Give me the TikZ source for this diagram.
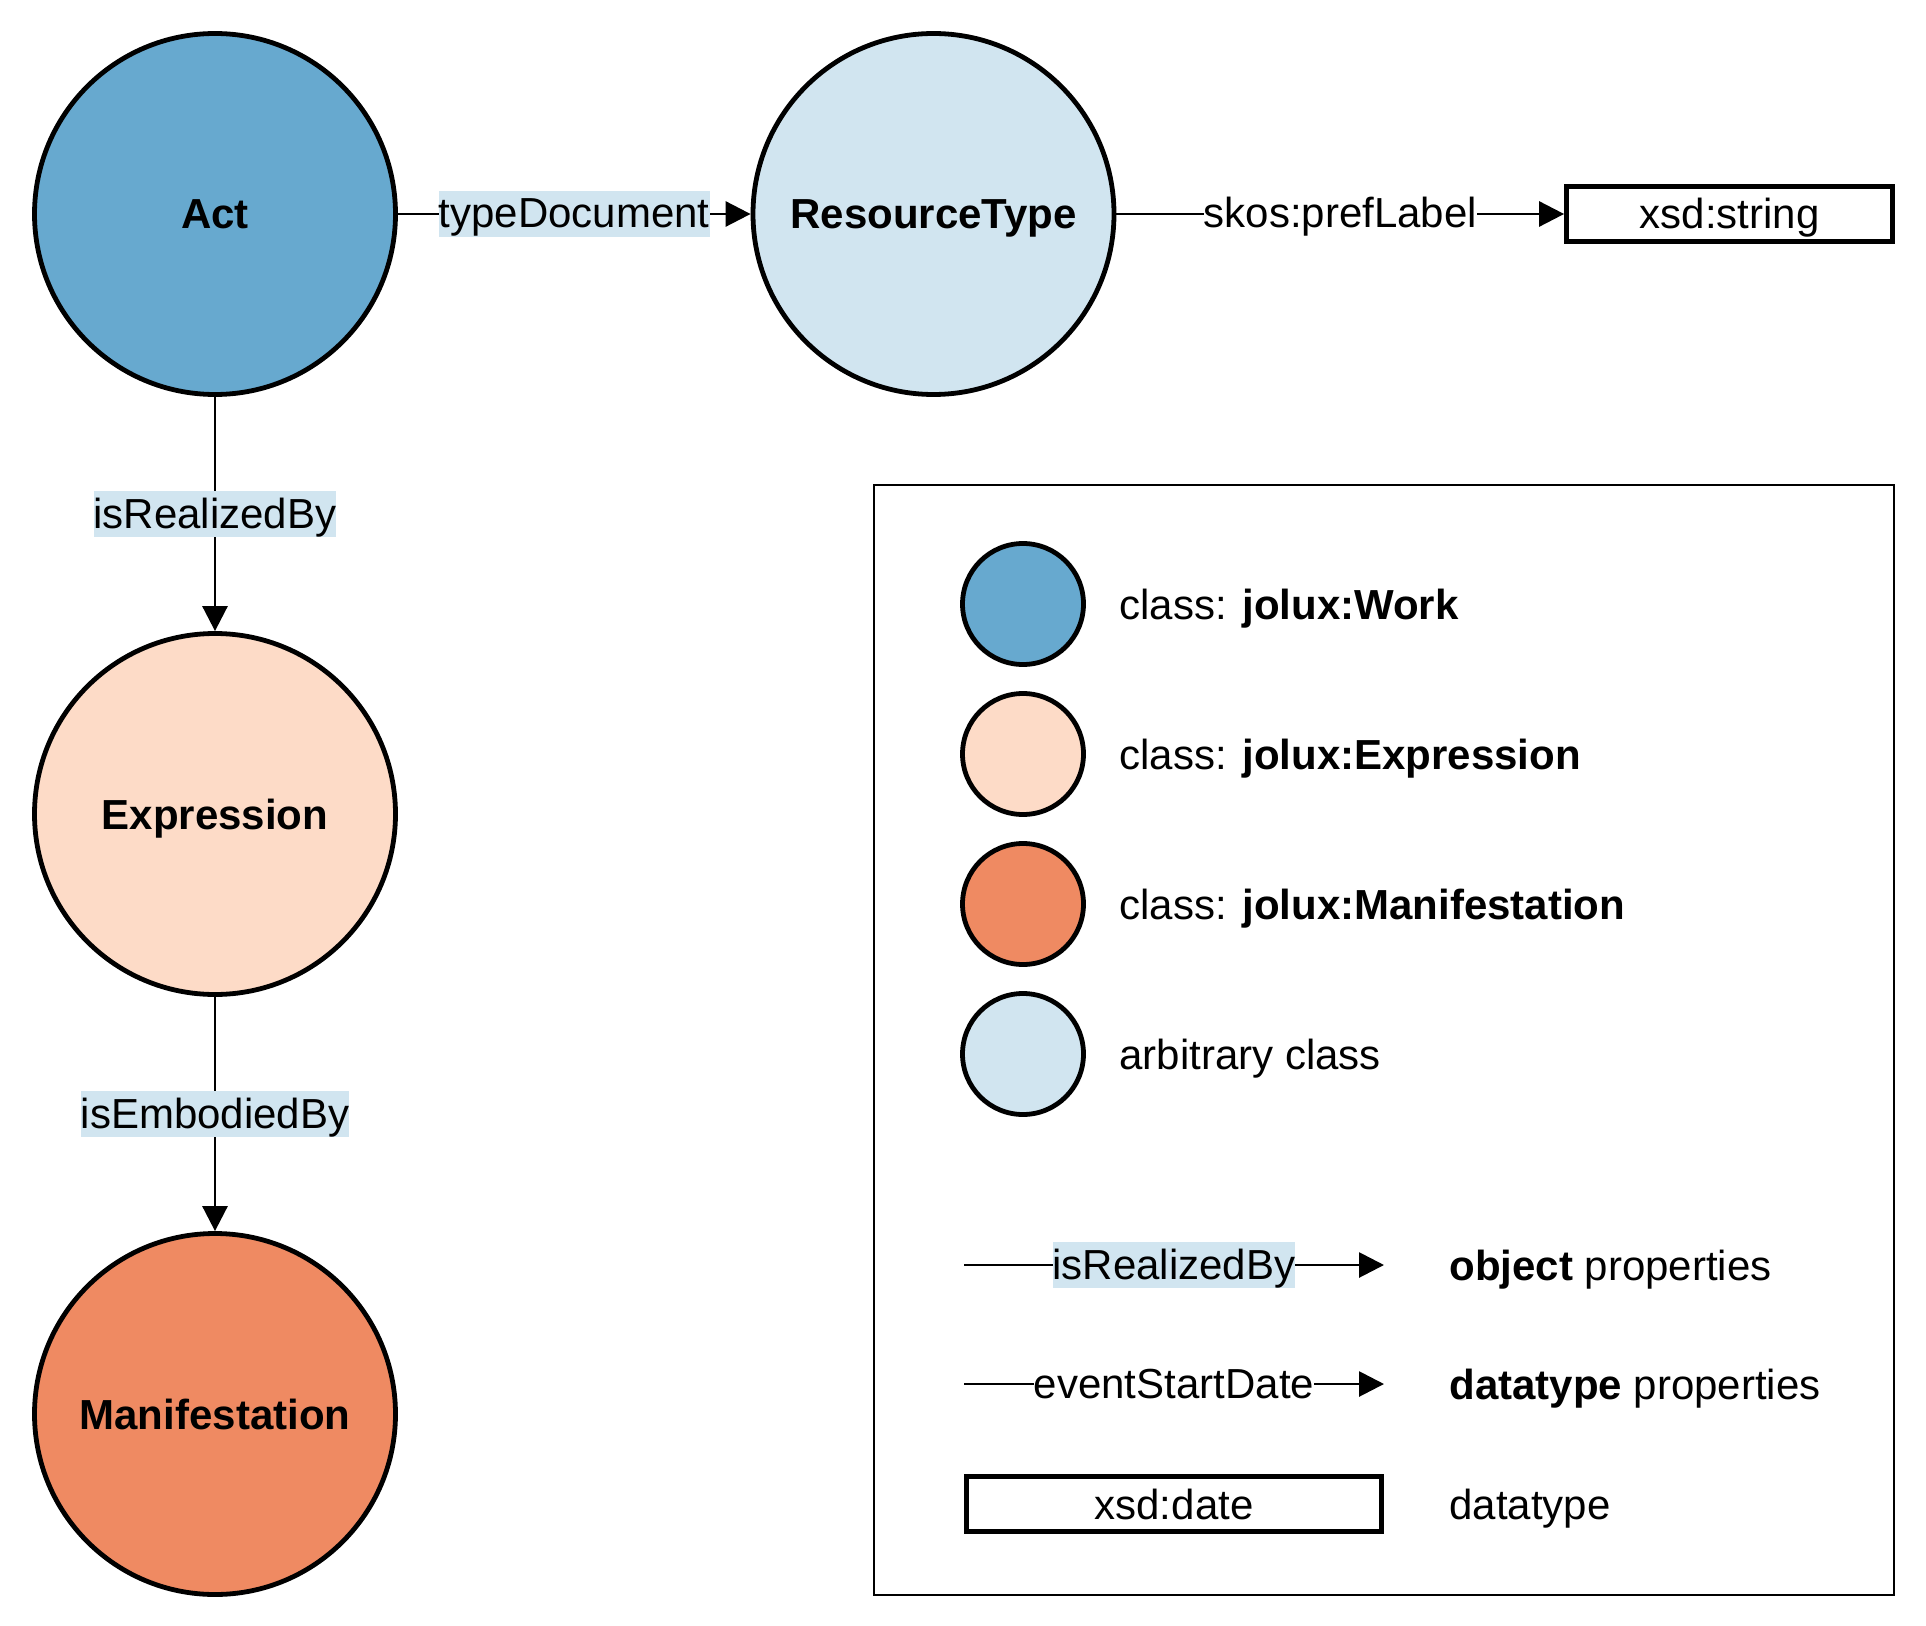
\documentclass[tikz,border=0pt]{standalone}
\usepackage{fontspec}
\setmainfont{Liberation Sans}
\usetikzlibrary{arrows.meta}
\definecolor{workblue}{HTML}{67A9CF}
\definecolor{lightblue}{HTML}{D1E5F0}
\definecolor{peach}{HTML}{FDDBC7}
\definecolor{salmon}{HTML}{EF8A62}
\begin{document}
\begin{tikzpicture}[x=0.5pt, y=-0.5pt,
  font=\fontsize{21pt}{25pt}\selectfont,
  cls/.style={circle, draw=black, line width=2.4pt, minimum size=180.5pt, inner sep=0pt, text height=15pt, text depth=0pt, font=\fontsize{21pt}{25pt}\selectfont\bfseries},
  legcls/.style={circle, draw=black, line width=2.4pt, minimum size=60.5pt, inner sep=0pt},
  dtype/.style={rectangle, draw=black, line width=2.4pt, minimum height=27.5pt, inner sep=0pt, text height=15pt, text depth=0pt},
  prop/.style={line width=1.4pt, -{Triangle[length=12.5pt,width=12.5pt]}},
  objlbl/.style={fill=lightblue, inner xsep=0pt, inner ysep=0pt, text height=18.5pt, text depth=4.5pt},
  datlbl/.style={fill=white, inner xsep=0pt, inner ysep=0pt, text height=18.5pt, text depth=4.5pt},
  legtxt/.style={anchor=west, inner sep=0pt, text height=15pt, text depth=0pt}]
\useasboundingbox (0,0) rectangle (1926,1626);

% main graph
\node[cls, fill=workblue] (act) at (215,214) {Act};
\node[cls, fill=lightblue] (rtype) at (933.5,214) {ResourceType};
\node[dtype, minimum width=163pt] (xstr) at (1729.5,214) {xsd:string};
\node[cls, fill=peach] (expr) at (215,814) {Expression};
\node[cls, fill=salmon] (manif) at (215,1414) {Manifestation};

\draw[prop] (act) -- node[objlbl] {typeDocument} (rtype);
\draw[prop] (rtype) -- node[datlbl] {skos:prefLabel} (xstr);
\draw[prop] (act) -- node[objlbl] {isRealizedBy} (expr);
\draw[prop] (expr) -- node[objlbl] {isEmbodiedBy} (manif);

% legend
\node[draw=black, line width=1.3pt, minimum width=510pt, minimum height=555pt, inner sep=0pt] (legend) at (1384,1040) {};

\node[legcls, fill=workblue] (lw) at (1023,604) {};
\node[legtxt] (lwt) at (1119,604) {class: \textbf{jolux:Work}};
\node[legcls, fill=peach] (le) at (1023,754) {};
\node[legtxt] (let) at (1119,754) {class: \textbf{jolux:Expression}};
\node[legcls, fill=salmon] (lm) at (1023,904) {};
\node[legtxt] (lmt) at (1119,904) {class: \textbf{jolux:Manifestation}};
\node[legcls, fill=lightblue] (la) at (1023,1054) {};
\node[legtxt] (lat) at (1119,1054) {arbitrary class};

\coordinate (oa) at (964,1265);
\coordinate (ob) at (1384,1265);
\draw[prop] (oa) -- node[objlbl] {isRealizedBy} (ob);
\node[legtxt] (ot) at (1449,1265) {\textbf{object} properties};

\coordinate (da) at (964,1384);
\coordinate (db) at (1384,1384);
\draw[prop] (da) -- node[datlbl] {eventStartDate} (db);
\node[legtxt] (dt) at (1449,1384) {\textbf{datatype} properties};

\node[dtype, minimum width=207.5pt] (xdate) at (1174,1504) {xsd:date};
\node[legtxt] (xdt) at (1449,1504) {datatype};
\end{tikzpicture}
\end{document}
